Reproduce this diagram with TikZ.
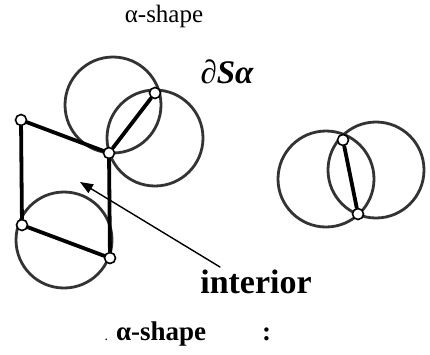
\documentclass[tikz,border=0pt]{standalone}
\usepackage{fontspec}
\setmainfont{Liberation Serif}
\usetikzlibrary{arrows.meta}
\definecolor{ringc}{RGB}{51,51,51}
\definecolor{inkc}{RGB}{0,0,0}

\begin{document}
\begin{tikzpicture}[x=1pt, y=-1pt, >=Triangle, line cap=round,
    ball/.style={ringc, line width=2.8pt},
    edge/.style={inkc, line width=3.8pt},
    vert/.style={circle, draw=inkc, fill=white, line width=1.6pt,
                 inner sep=0pt, minimum size=11pt}]
  \def\R{48pt}     % alpha radius

  \useasboundingbox (0,0) rectangle (430,354);

  % alpha balls
  \foreach \cx/\cy in {113/105, 155/138, 64/240, 326/179, 376/170}{
    \draw[ball] (\cx,\cy) circle (\R);
  }

  % vertices
  \node[vert] (a) at (21,120) {};
  \node[vert] (b) at (109,153) {};
  \node[vert] (c) at (155,93) {};
  \node[vert] (d) at (22,225) {};
  \node[vert] (e) at (110,258) {};
  \node[vert] (f) at (343,140) {};
  \node[vert] (g) at (358,214) {};

  % boundary edges
  \draw[edge] (a) -- (b);
  \draw[edge] (a) -- (d);
  \draw[edge] (b) -- (e);
  \draw[edge] (d) -- (e);
  \draw[edge] (b) -- (c);
  \draw[edge] (f) -- (g);

  % labels
  \node[font=\fontsize{25}{28}\selectfont] (title) at (164,16) {α-shape};
  \node[font=\fontsize{33}{36}\selectfont\bfseries\itshape] (bd) at (227,72) {∂Sα};
  \node[font=\fontsize{34}{38}\selectfont\bfseries] (inner) at (256,282) {interior};
  \node[font=\fontsize{27}{30}\selectfont\bfseries, anchor=base west] (cap) at (101,340)
    {{\mdseries\fontsize{14}{16}\selectfont.}\hspace{8pt}α-shape\hspace{56pt}:};

  % pointer to the interior
  \coordinate (tail) at (220,267);
  \coordinate (tip) at (80,182);
  \draw[->, inkc, line width=1.4pt, >={Triangle[length=13pt, width=10pt]}] (tail) -- (tip);
\end{tikzpicture}
\end{document}
